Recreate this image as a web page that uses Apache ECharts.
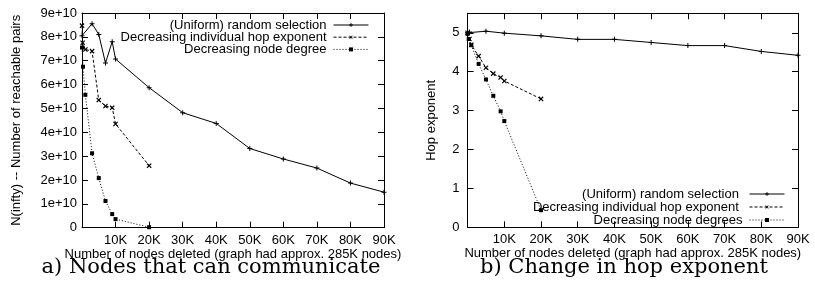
<!DOCTYPE html>
<html>
<head>
<meta charset="utf-8">
<script src="https://cdn.jsdelivr.net/npm/echarts@6/dist/echarts.min.js"></script>
<style>
html,body{margin:0;padding:0;background:#fff;}
#chart{width:815px;height:292px;}
</style>
</head>
<body>
<div id="chart"></div>
<script>
// ---- Data: chart a) N(infty) ----
const seriesNames = ['(Uniform) random selection', 'Decreasing individual hop exponent'];
const degreeNameA = 'Decreasing node degree';
const degreeNameB = 'Decreasing node degrees';

const aUniX = [0, 3000, 5000, 7000, 9000, 10000, 20000, 30000, 40000, 50000, 60000, 70000, 80000, 90000];
const aUniY = [8.05e10, 8.55e10, 8.1e10, 6.9e10, 7.8e10, 7.07e10, 5.87e10, 4.82e10, 4.37e10, 3.32e10, 2.88e10, 2.5e10, 1.87e10, 1.49e10];
const aHopX = [0, 200, 1000, 3000, 5000, 7000, 9000, 10000, 20000];
const aHopY = [8.47e10, 7.75e10, 7.47e10, 7.4e10, 5.35e10, 5.1e10, 5.03e10, 4.35e10, 2.6e10];
const aDegX = [0, 300, 1000, 3000, 5000, 7000, 9000, 10000, 20000];
const aDegY = [7.55e10, 6.75e10, 5.57e10, 3.12e10, 2.08e10, 1.12e10, 0.57e10, 0.36e10, 0.02e10];

// ---- Data: chart b) hop exponent ----
const bUniX = [0, 500, 5000, 10000, 20000, 30000, 40000, 50000, 60000, 70000, 80000, 90000];
const bUniY = [5.0, 5.02, 5.04, 4.99, 4.92, 4.83, 4.83, 4.75, 4.67, 4.67, 4.52, 4.42];
const bHopX = [0, 500, 1000, 3000, 5000, 7000, 9000, 10000, 20000];
const bHopY = [5.0, 4.84, 4.69, 4.4, 4.1, 3.95, 3.85, 3.76, 3.3];
const bDegX = [0, 300, 1000, 3000, 5000, 7000, 9000, 10000, 20000];
const bDegY = [4.97, 4.84, 4.68, 4.2, 3.8, 3.38, 2.98, 2.73, 0.44];

// ---- Axis labels / text ----
const xTickLabels = ['', '10K', '20K', '30K', '40K', '50K', '60K', '70K', '80K', '90K'];
const aYTickLabels = ['0', '1e+10', '2e+10', '3e+10', '4e+10', '5e+10', '6e+10', '7e+10', '8e+10', '9e+10'];
const bYTickLabels = ['0', '1', '2', '3', '4', '5'];
const xName = 'Number of nodes deleted (graph had approx. 285K nodes)';
const aYName = 'N(infty) -- Number of reachable pairs';
const bYName = 'Hop exponent';
const captionA = 'a) Nodes that can communicate';
const captionB = 'b) Change in hop exponent';

function zip(xs, ys){ return xs.map((x,i)=>[x, ys[i]]); }

const FONT = 'Liberation Sans';
const FS = 13;
const plus = 'path://M2,0H3V2H5V3H3V5H2V3H0V2H2Z';

const G0 = {left: 82, top: 13, width: 302, height: 214.7};
const G1 = {left: 467.6, top: 13.3, width: 330.4, height: 214};

function xAx(grid, bottom){
  return {
    type: 'value', gridIndex: grid, position: bottom ? 'bottom' : 'top',
    min: 0, max: 90000, interval: 10000,
    axisLine: {show: true, onZero: false, lineStyle: {color: '#000', width: 1}},
    axisTick: {show: true, inside: true, length: 6, lineStyle: {color: '#000'}},
    splitLine: {show: false},
    axisLabel: bottom ? {show: true, margin: 6, color: '#000', fontFamily: FONT, fontSize: FS,
      formatter: v => xTickLabels[Math.round(v/10000)] || ''} : {show: false},
    name: bottom ? xName : '', nameLocation: 'middle', nameGap: 20, nameMoveOverlap: false,
    nameTextStyle: {color: '#000', fontFamily: FONT, fontSize: FS}
  };
}
function yAx(grid, left, max, interval, labels, name, gap){
  return {
    type: 'value', gridIndex: grid, position: left ? 'left' : 'right',
    min: 0, max: max, interval: interval,
    axisLine: {show: true, onZero: false, lineStyle: {color: '#000', width: 1}},
    axisTick: {show: true, inside: true, length: 6, lineStyle: {color: '#000'}},
    splitLine: {show: false},
    axisLabel: left ? {show: true, margin: grid === 0 ? 5 : 8, color: '#000', fontFamily: FONT, fontSize: FS,
      showMaxLabel: grid === 0,
      formatter: v => { const i = Math.round(v/interval); return (Math.abs(v - i*interval) < 1e-6*interval) ? (labels[i] || '') : ''; }} : {show: false},
    name: left ? name : '', nameLocation: 'middle', nameGap: gap, nameRotate: 90,
    nameTextStyle: {color: '#000', fontFamily: FONT, fontSize: FS}
  };
}

function mkSeries(name, data, xi, yi, kind){
  const s = {
    name: name, type: 'line', xAxisIndex: xi, yAxisIndex: yi, data: data,
    showSymbol: true, animation: false, silent: true,
    itemStyle: {color: '#000'},
    lineStyle: {color: '#000', width: 1}
  };
  if (kind === 'uni') { s.symbol = plus; s.symbolSize = 5; s.lineStyle.type = 'solid'; }
  if (kind === 'hop') { s.symbol = plus; s.symbolSize = 6; s.symbolRotate = 45; s.lineStyle.type = [3, 2]; }
  if (kind === 'deg') { s.symbol = 'rect'; s.symbolSize = 4; s.lineStyle.type = [1, 2]; }
  return s;
}

function legendItem(name, right, top){
  return {
    data: [name], orient: 'horizontal', align: 'right', right: right, top: top,
    itemWidth: 35, itemHeight: 5, itemGap: 0, padding: 0,
    selectedMode: false,
    lineStyle: {width: 1},
    textStyle: {color: '#000', fontFamily: FONT, fontSize: FS, padding: [0, 2, 0, 0]}
  };
}

const chart = echarts.init(document.getElementById('chart'), null, {renderer: 'canvas'});
chart.setOption({
  animation: false,
  backgroundColor: '#fff',
  grid: [
    Object.assign({containLabel: false}, G0),
    Object.assign({containLabel: false}, G1)
  ],
  xAxis: [xAx(0, true), xAx(0, false), xAx(1, true), xAx(1, false)],
  yAxis: [
    yAx(0, true, 9e10, 1e10, aYTickLabels, aYName, 59),
    yAx(0, false, 9e10, 1e10, aYTickLabels, '', 0),
    yAx(1, true, 5.5, 1, bYTickLabels, bYName, 30),
    yAx(1, false, 5.5, 1, bYTickLabels, '', 0)
  ],
  legend: [
    legendItem(seriesNames[0], 815 - 369, 18.5),
    legendItem(seriesNames[1], 815 - 369, 30.7),
    legendItem(degreeNameA, 815 - 369, 42.9),
    legendItem(seriesNames[0] + ' ', 815 - 785, 187.5),
    legendItem(seriesNames[1] + ' ', 815 - 785, 200.5),
    legendItem(degreeNameB, 815 - 785, 213.5)
  ],
  series: [
    mkSeries(seriesNames[0], zip(aUniX, aUniY), 0, 0, 'uni'),
    mkSeries(seriesNames[1], zip(aHopX, aHopY), 0, 0, 'hop'),
    mkSeries(degreeNameA, zip(aDegX, aDegY), 0, 0, 'deg'),
    mkSeries(seriesNames[0] + ' ', zip(bUniX, bUniY), 2, 2, 'uni'),
    mkSeries(seriesNames[1] + ' ', zip(bHopX, bHopY), 2, 2, 'hop'),
    mkSeries(degreeNameB, zip(bDegX, bDegY), 2, 2, 'deg')
  ],
  graphic: [
    {type: 'text', style: {text: captionA, x: 211, y: 267.5, textAlign: 'center', textVerticalAlign: 'middle', font: '21px "DejaVu Serif"', fill: '#000'}},
    {type: 'text', style: {text: captionB, x: 624, y: 267.5, textAlign: 'center', textVerticalAlign: 'middle', font: '21px "DejaVu Serif"', fill: '#000'}}
  ]
});
</script>
</body>
</html>
